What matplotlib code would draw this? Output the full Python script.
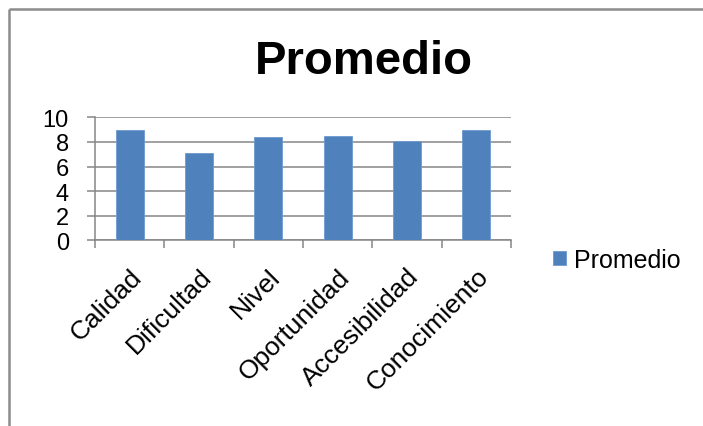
import numpy as np
import matplotlib
matplotlib.use("Agg")
import matplotlib.pyplot as plt
from matplotlib.lines import Line2D

plt.rcParams['font.family'] = ['Liberation Sans', 'DejaVu Sans']

# --- datos ---
categorias = ['Calidad', 'Dificultad', 'Nivel', 'Oportunidad', 'Accesibilidad', 'Conocimiento']
promedio = [9.0, 7.1, 8.4, 8.5, 8.1, 9.0]
y_ticks = [0, 2, 4, 6, 8, 10]

bar_color = '#4F81BD'
gray = '#868686'

fig = plt.figure(figsize=(7.03, 4.27), dpi=100)
ax = fig.add_axes([95 / 703, 1 - 241.3 / 427, 416 / 703, 123 / 427])

x = np.arange(len(categorias))
ax.bar(x, promedio, width=0.4, color=bar_color, edgecolor='#6f9bd0', linewidth=0.6,
       label='Promedio', zorder=3)

ax.set_xlim(-0.5, len(categorias) - 0.5)
ax.set_ylim(0, 10)
ax.set_yticks(y_ticks)
ax.set_yticklabels([str(v) for v in y_ticks], fontsize=17)
ax.grid(axis='y', color=gray, linewidth=1.1, zorder=0)

# etiquetas en el centro, marcas entre categorias
ax.set_xticks(x)
ax.set_xticklabels(categorias, fontsize=19, rotation=45, ha='right', va='top',
                   rotation_mode='anchor')
ax.set_xticks(np.arange(len(categorias) + 1) - 0.5, minor=True)
ax.tick_params(axis='x', which='major', length=0, pad=17)
ax.tick_params(axis='x', which='minor', length=5.8, width=1.1, color=gray, direction='out')
ax.tick_params(axis='y', length=5.8, width=1.1, color=gray, direction='out', pad=13)

for s in ['top', 'right']:
    ax.spines[s].set_visible(False)
for s in ['left', 'bottom']:
    ax.spines[s].set_color(gray)
    ax.spines[s].set_linewidth(1.1)

fig.text(363.5 / 703, 1 - 74.3 / 427, 'Promedio', fontsize=34, fontweight='bold',
         ha='center', va='baseline')

ax.legend(loc='center left', bbox_to_anchor=(553 / 703, 1 - 261 / 427),
          bbox_transform=fig.transFigure, frameon=False, fontsize=18,
          handlelength=0.52, handleheight=0.52, handletextpad=0.3,
          borderpad=0, borderaxespad=0)

# marco exterior del grafico
fig.add_artist(Line2D([8.7 / 703, 8.7 / 703], [0, 1 - 10 / 427], transform=fig.transFigure,
                      color='#8c8c8c', linewidth=1.8, solid_capstyle='butt'))
fig.add_artist(Line2D([8.7 / 703, 1], [1 - 10 / 427, 1 - 10 / 427], transform=fig.transFigure,
                      color='#8c8c8c', linewidth=1.8, solid_capstyle='butt'))

fig.savefig('out.png', dpi=100)
